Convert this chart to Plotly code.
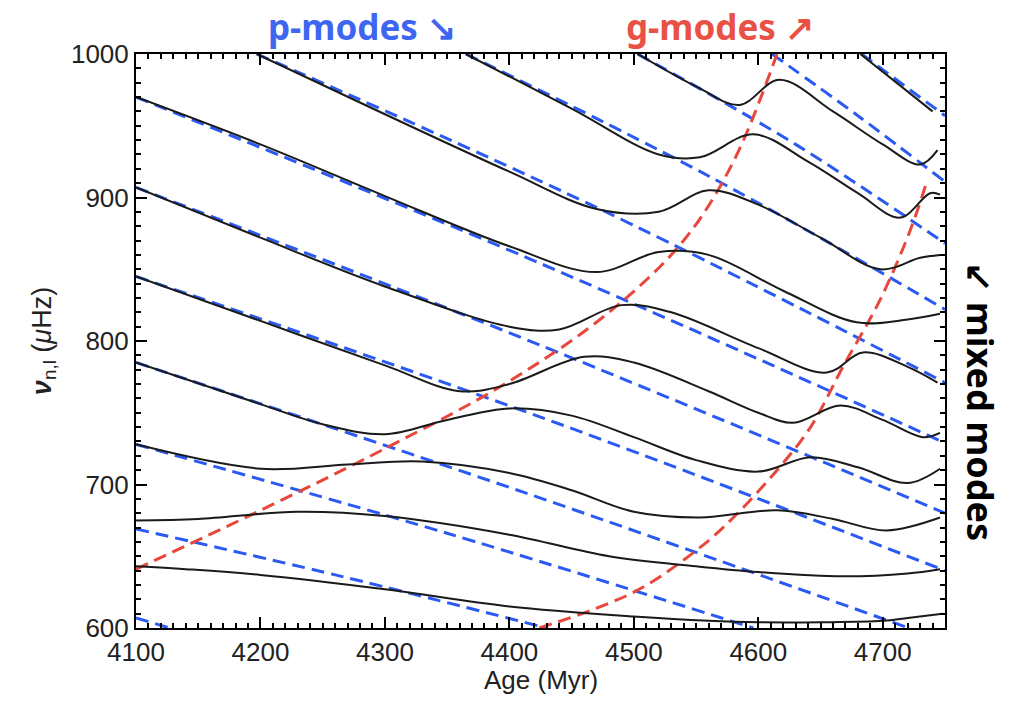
import plotly.graph_objects as go

# ---------------- data ----------------
# p-modes (blue dashed)
P_t = [
    [4100, 4127],
    [4100, 4265, 4430],
    [4100, 4350, 4596],
    [4100, 4410, 4721],
    [4100, 4425, 4750],
    [4100, 4425, 4750],
    [4100, 4425, 4750],
    [4197, 4475, 4750],
    [4365, 4560, 4750],
    [4503, 4630, 4750],
    [4611, 4680, 4750],
    [4683, 4750],
]
P_v = [
    [607, 600],
    [669, 636, 600],
    [728, 666, 600],
    [785, 695, 600],
    [845, 747, 640],
    [907, 797, 680],
    [970, 854, 729],
    [1000, 891, 771],
    [1000, 915, 822],
    [1000, 937, 868],
    [1000, 957, 911],
    [1000, 957],
]
# g-modes (red dashed)
G_t = [
    [4100, 4200, 4300, 4400, 4480, 4540, 4580, 4615],
    [4424, 4500, 4553, 4580, 4617, 4642, 4668, 4698, 4722, 4735],
]
G_v = [
    [641, 682, 725, 772, 820, 870, 925, 1000],
    [600, 625, 656, 677, 712, 740, 782, 829, 877, 910],
]
# mixed modes (black)
M_t = [
    [4100, 4140, 4200, 4300, 4400, 4500, 4560, 4600, 4650, 4700, 4720, 4748],
    [4100, 4150, 4230, 4300, 4400, 4480, 4550, 4600, 4668, 4720, 4746],
    [4100, 4200, 4270, 4330, 4400, 4450, 4500, 4553, 4615, 4660, 4703, 4746],
    [4100, 4200, 4250, 4300, 4350, 4400, 4450, 4500, 4550, 4600, 4642, 4680, 4720, 4746],
    [4100, 4200, 4300, 4360, 4400, 4460, 4500, 4560, 4600, 4628, 4666, 4700, 4732, 4746],
    [4100, 4200, 4300, 4400, 4440, 4490, 4530, 4600, 4655, 4684, 4720, 4744],
    [4100, 4200, 4300, 4400, 4470, 4520, 4560, 4620, 4679, 4720, 4746],
    [4197, 4300, 4400, 4470, 4520, 4560, 4600, 4650, 4698, 4730, 4746],
    [4365, 4450, 4520, 4553, 4596, 4640, 4680, 4714, 4738, 4746],
    [4503, 4553, 4585, 4617, 4660, 4700, 4730, 4744],
    [4682, 4740],
]
M_v = [
    [643, 641, 637, 627, 615, 608, 605, 604, 604, 605, 607, 610],
    [675, 676, 681, 678, 665, 650, 643, 639, 636, 638, 641],
    [728, 711, 714, 716, 708, 696, 681, 677, 682, 676, 668, 677],
    [785, 756, 742, 735, 745, 753, 748, 733, 717, 709, 719, 712, 701, 711],
    [845, 814, 783, 765, 770, 789, 785, 765, 750, 743, 755, 745, 733, 736],
    [907, 872, 838, 810, 808, 825, 820, 795, 778, 792, 782, 771],
    [970, 937, 901, 866, 848, 862, 860, 835, 813, 815, 819],
    [1000, 958, 918, 892, 890, 905, 895, 872, 850, 858, 860],
    [1000, 962, 930, 928, 944, 925, 903, 886, 903, 902],
    [1000, 976, 964.5, 982, 960, 937, 923, 933],
    [1000, 960],
]

x_ticks = [4100, 4200, 4300, 4400, 4500, 4600, 4700]
y_ticks = [600, 700, 800, 900, 1000]

BLUE = "#2a5af2"
RED = "#e8473c"

fig = go.Figure()
for t, v in zip(P_t, P_v):
    fig.add_trace(go.Scatter(x=t, y=v, mode="lines", line_shape="spline",
                             line=dict(color=BLUE, width=3, dash="13px,7px"),
                             showlegend=False, hoverinfo="skip"))
for t, v in zip(G_t, G_v):
    fig.add_trace(go.Scatter(x=t, y=v, mode="lines", line_shape="spline",
                             line=dict(color=RED, width=3, dash="13px,7px"),
                             showlegend=False, hoverinfo="skip"))
for t, v in zip(M_t, M_v):
    fig.add_trace(go.Scatter(x=t, y=v, mode="lines", line_shape="spline",
                             line=dict(color="#1a1a1a", width=2),
                             showlegend=False, hoverinfo="skip"))

SANS = "Liberation Sans, Arial, sans-serif"
TICKFONT = dict(family=SANS, size=26, color="#222")
axis_common = dict(showgrid=False, zeroline=False, showline=True, linecolor="black",
                   linewidth=2, mirror="ticks", ticks="inside", ticklen=11,
                   tickwidth=2, tickcolor="black", tickfont=TICKFONT)

fig.update_xaxes(range=[4100, 4750], tickvals=x_ticks, ticktext=[str(v) for v in x_ticks],
                 minor=dict(ticks="inside", dtick=10, ticklen=5, tickwidth=1.5, tickcolor="black"),
                 **axis_common)
fig.update_yaxes(range=[600, 1000], tickvals=y_ticks, ticktext=[str(v) for v in y_ticks],
                 minor=dict(ticks="inside", dtick=10, ticklen=5, tickwidth=1.5, tickcolor="black"),
                 title=dict(text="<b><i>ν</i></b><sub>n,l</sub> (<i>μ</i>Hz)",
                            font=dict(family=SANS, size=27, color="#222"),
                            standoff=12),
                 **axis_common)

# x-axis title as annotation for exact placement
fig.add_annotation(text="Age (Myr)", x=0.5, y=0, xref="paper", yref="paper",
                   xanchor="center", yanchor="middle", yshift=-52, showarrow=False,
                   font=dict(family=SANS, size=26, color="#222"))

TITLEFONT = "Noto Sans, Open Sans, sans-serif"
fig.add_annotation(text="<b>p-modes ↘</b>", x=0.279, y=1.0, xref="paper", yref="paper",
                   xanchor="center", yanchor="middle", yshift=28, showarrow=False,
                   font=dict(family=TITLEFONT, size=35, color="#3f66f0"))
fig.add_annotation(text="<b>g-modes ↗</b>", x=0.722, y=1.0, xref="paper", yref="paper",
                   xanchor="center", yanchor="middle", yshift=28, showarrow=False,
                   font=dict(family=TITLEFONT, size=35, color="#ea5145"))
fig.add_annotation(text="<b>↙ mixed modes</b>", x=1.0, y=0.395, xref="paper", yref="paper",
                   xanchor="center", yanchor="middle", xshift=36, showarrow=False, textangle=90,
                   font=dict(family=TITLEFONT, size=36, color="black"))

fig.update_layout(width=1015, height=704, plot_bgcolor="white", paper_bgcolor="white",
                  margin=dict(l=136, r=70, t=54, b=76), showlegend=False)

fig.write_html("out.html")
